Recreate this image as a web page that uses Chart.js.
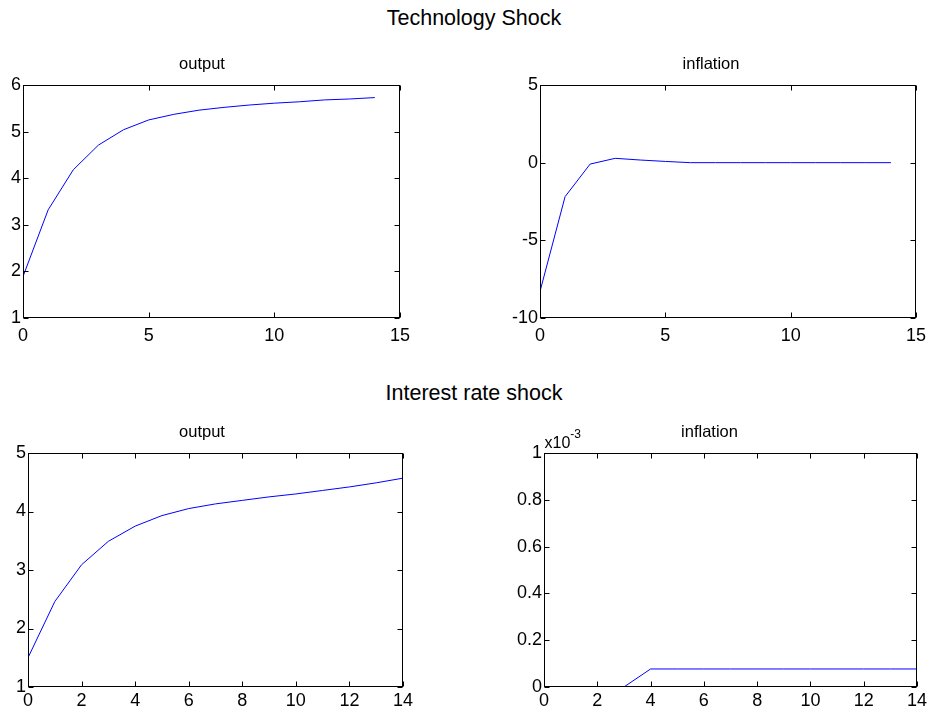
<!DOCTYPE html>
<html>
<head>
<meta charset="utf-8">
<script src="https://cdn.jsdelivr.net/npm/chart.js@4/dist/chart.umd.min.js"></script>
<style>
  body { margin: 0; background: #fff; width: 930px; height: 710px; position: relative; overflow: hidden; }
  canvas { position: absolute; }
  .sup { position: absolute; left: 0; width: 948px; text-align: center; font-family: "Liberation Sans", Arial, sans-serif; font-size: 21.5px; color: #000; line-height: 26px; }
</style>
</head>
<body>
<div class="sup" style="top:5px">Technology Shock</div>
<div class="sup" style="top:380px">Interest rate shock</div>
<canvas id="techOut" width="417" height="294" style="left:0;top:54px"></canvas>
<canvas id="techInf" width="433" height="294" style="left:500px;top:54px"></canvas>
<canvas id="rateOut" width="416" height="295" style="left:0;top:422px"></canvas>
<canvas id="rateInf" width="430" height="295" style="left:500px;top:422px"></canvas>
<script>
// impulse responses, periods 0..14
const periods = [0, 1, 2, 3, 4, 5, 6, 7, 8, 9, 10, 11, 12, 13, 14];
const techOutput = [1.89, 3.32, 4.18, 4.71, 5.04, 5.25, 5.37, 5.46, 5.52, 5.57, 5.61, 5.64, 5.68, 5.70, 5.73];
const techInflation = [-8.29, -2.19, -0.09, 0.28, 0.17, 0.08, 0, 0, 0, 0, 0, 0, 0, 0, 0];
const rateOutput = [1.50, 2.46, 3.09, 3.49, 3.75, 3.93, 4.05, 4.13, 4.19, 4.25, 4.30, 4.36, 4.42, 4.49, 4.57];
const rateInflation = [0, 0, 0, 0, 0.000077, 0.000077, 0.000077, 0.000077, 0.000077, 0.000077, 0.000077, 0.000077, 0.000077, 0.000077, 0.000077];

const FONT = "'Liberation Sans', Arial, sans-serif";

// MATLAB style box with inward ticks on all four sides
const boxPlugin = {
  id: 'box',
  afterDatasetsDraw(chart, args, opts) {
    const { ctx, chartArea: a, scales: { x, y } } = chart;
    const L = Math.round(a.left) + 0.5, R = Math.round(a.right) - 0.5;
    const T = Math.round(a.top) + 0.5, B = Math.round(a.bottom) - 0.5;
    const len = 5;
    ctx.save();
    ctx.strokeStyle = '#000';
    ctx.lineWidth = 1;
    ctx.beginPath();
    x.ticks.forEach(t => {
      const px = Math.round(x.getPixelForValue(t.value)) + 0.5;
      ctx.moveTo(px, B); ctx.lineTo(px, B - len);
      ctx.moveTo(px, T); ctx.lineTo(px, T + len);
    });
    y.ticks.forEach(t => {
      const py = Math.round(y.getPixelForValue(t.value)) + 0.5;
      ctx.moveTo(L, py); ctx.lineTo(L + len, py);
      ctx.moveTo(R, py); ctx.lineTo(R - len, py);
    });
    ctx.stroke();
    ctx.strokeRect(L, T, R - L, B - T);
    if (opts.exponent) {
      ctx.fillStyle = '#000';
      ctx.textBaseline = 'alphabetic';
      ctx.font = '16px ' + FONT;
      ctx.fillText('x10', L, T - 6);
      const w = ctx.measureText('x10').width;
      ctx.font = '12px ' + FONT;
      ctx.fillText(opts.exponent, L + w, T - 16);
    }
    ctx.restore();
  }
};

function makeChart(id, title, values, xMax, xStep, yMin, yMax, yStep, yWidth, padRight, xPad, extra) {
  extra = extra || {};
  return new Chart(document.getElementById(id), {
    type: 'line',
    data: {
      datasets: [{
        data: periods.map((p, i) => ({ x: p, y: values[i] })),
        borderColor: '#0000ff',
        borderWidth: 1,
        pointRadius: 0,
        tension: 0,
        fill: false
      }]
    },
    options: {
      responsive: false,
      animation: false,
      events: [],
      layout: { padding: { left: 0, right: padRight, top: 0, bottom: 0 } },
      plugins: {
        legend: { display: false },
        tooltip: { enabled: false },
        title: {
          display: true,
          text: title,
          color: '#000',
          font: { family: FONT, size: 16.5, weight: 'normal', lineHeight: '20px' },
          padding: { top: 0, bottom: 11 }
        },
        box: { exponent: extra.exponent || null }
      },
      scales: {
        x: {
          type: 'linear',
          min: 0,
          max: xMax,
          grid: { display: false, drawTicks: false },
          border: { display: false },
          ticks: { stepSize: xStep, color: '#000', padding: xPad, maxRotation: 0, font: { family: FONT, size: 18 } },
          afterFit: s => { s.height = 30; }
        },
        y: {
          min: yMin,
          max: yMax,
          grid: { display: false, drawTicks: false },
          border: { display: false },
          ticks: {
            stepSize: yStep,
            color: '#000',
            padding: 2,
            font: { family: FONT, size: 18 },
            callback: extra.tickFormat || (v => v)
          },
          afterFit: s => { s.width = yWidth; }
        }
      }
    },
    plugins: [boxPlugin]
  });
}

makeChart('techOut', 'output', techOutput, 15, 5, 1, 6, 1, 23, 13, 7);
makeChart('techInf', 'inflation', techInflation, 15, 5, -10, 5, 5, 40, 11, 7);
makeChart('rateOut', 'output', rateOutput, 14, 2, 1, 5, 1, 28, 12, 3);
makeChart('rateInf', 'inflation', rateInflation, 14, 2, 0, 0.001, 0.0002, 44, 11, 3, {
  exponent: '-3',
  tickFormat: v => String(Math.round(v * 10000) / 10)
});
</script>
</body>
</html>
